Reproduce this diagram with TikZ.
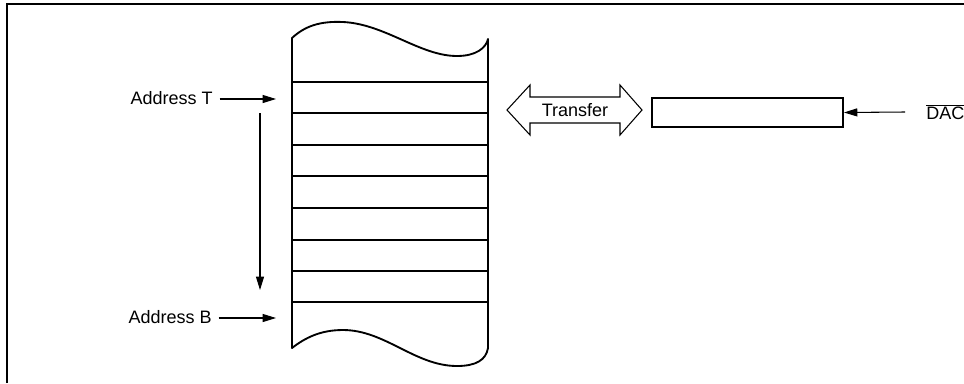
\documentclass[tikz,border=0pt]{standalone}
\usepackage{fontspec}
\setmainfont{Liberation Sans}
\usetikzlibrary{arrows.meta}
\begin{document}
\begin{tikzpicture}[x=0.75pt,y=-0.75pt,
  lbl/.style={inner sep=0pt, font=\fontsize{13.5}{16}\selectfont},
  arr/.style={line width=0.8pt, -{Triangle[length=10pt,width=6pt]}},
  memline/.style={line width=1.4pt, line join=round},
  frameline/.style={line width=1.6pt}]
\useasboundingbox (0,0) rectangle (964,383);
% outer frame (cropped)
\draw[frameline] (7,383) -- (7,4) -- (964,4);
% memory column
\draw[memline] (292,38) .. controls (305,26) and (320,21) .. (343,22)
  .. controls (385,24) and (420,56) .. (457,56)
  .. controls (476,56) and (486,48) .. (488,39)
  -- (488,348)
  .. controls (486,360) and (476,366) .. (457,366)
  .. controls (415,366) and (385,330) .. (343,330)
  .. controls (320,330) and (305,338) .. (292,348) -- cycle;
\foreach \yy in {82,113,145,176,208,240,271,302}
  \draw[memline] (292,\yy) -- (488,\yy);
% address labels
\node[lbl, anchor=east] (addrT) at (213,98) {Address T};
\node[lbl, anchor=east] (addrB) at (212,317) {Address B};
\coordinate (tT) at (276,99);
\coordinate (tB) at (276,318);
\draw[arr, shorten <=5pt] (addrT.east |- tT) -- (tT);
\draw[arr, shorten <=5pt] (addrB.east |- tB) -- (tB);
% vertical scan arrow
\coordinate (v1) at (260,113);
\coordinate (v2) at (260,290);
\draw[arr] (v1) -- (v2);
% transfer double arrow
\draw[line width=0.8pt, line join=miter] (507,110) -- (530,85) -- (530,97) -- (620,97) -- (620,85)
  -- (642,110) -- (620,135) -- (620,123) -- (530,123) -- (530,135) -- cycle;
\node[lbl] (xfer) at (575,110) {Transfer};
% register
\node[draw, line width=1.4pt, minimum width=143.25pt, minimum height=21.75pt, inner sep=0pt] (reg) at (747.5,112.5) {};
% DAC
\node[lbl, anchor=west] (dac) at (926,112) {$\overline{\hbox{DAC}}$};
\coordinate (dacS) at (905,112);
\draw[arr] (dacS) -- (reg.east);
\end{tikzpicture}
\end{document}
